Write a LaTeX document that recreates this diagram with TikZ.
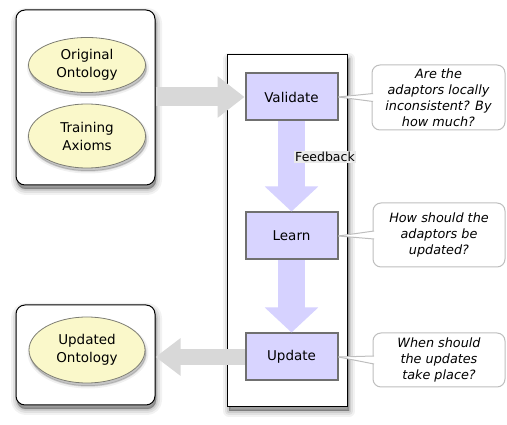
\documentclass[tikz,border=0pt]{standalone}
\usepackage{fontspec}
\setmainfont{DejaVu Sans}
\usetikzlibrary{shapes.geometric,arrows.meta,shadows,calc}
\definecolor{ellfill}{RGB}{250,248,202}
\definecolor{ellline}{RGB}{125,125,115}
\definecolor{stepfill}{RGB}{216,212,255}
\definecolor{stepline}{RGB}{112,112,112}
\definecolor{garrow}{RGB}{216,216,216}
\definecolor{parrow}{RGB}{214,210,255}
\definecolor{callline}{RGB}{190,190,190}
\definecolor{fbfill}{RGB}{234,234,234}
\begin{document}
\begin{tikzpicture}[x=1pt,y=-1pt,
  softshadow/.style={
    general shadow={fill=black, draw=black, line join=round, opacity=0.05, line width=12pt, shadow xshift=#1, shadow yshift=-4pt},
    general shadow={fill=black, draw=black, line join=round, opacity=0.07, line width=8pt, shadow xshift=#1, shadow yshift=-4pt},
    general shadow={fill=black, draw=black, line join=round, opacity=0.09, line width=4pt, shadow xshift=#1, shadow yshift=-4pt},
    general shadow={fill=black, draw=black, line join=round, opacity=0.12, line width=1pt, shadow xshift=#1, shadow yshift=-4pt}},
  groupbox/.style={draw=black, line width=1pt, fill=white, rounded corners=9pt, softshadow=1pt},
  mainbox/.style={draw=black, line width=1pt, fill=white, softshadow=2pt},
  onto/.style={ellipse, draw=ellline, line width=0.8pt, fill=ellfill, align=center,
    inner sep=0pt, font=\fontsize{13.5}{18}\selectfont,
    general shadow={fill=black, draw=black, opacity=0.06, line width=5pt, shadow xshift=1pt, shadow yshift=-3pt},
    general shadow={fill=black, draw=black, opacity=0.12, line width=1.5pt, shadow xshift=1pt, shadow yshift=-3pt}},
  stepbox/.style={draw=stepline, line width=2pt, fill=stepfill, minimum width=92pt,
    minimum height=47pt, font=\fontsize{13.5}{18}\selectfont},
  callout/.style={draw=callline, line width=1pt, fill=white, rounded corners=8pt,
    align=center, inner sep=1pt, font=\fontsize{12.8}{16}\selectfont\itshape},
  wedge/.style={draw=callline, line width=1pt},
  grayarrow/.style={draw=garrow},
  purplearrow/.style={draw=parrow, line width=27pt, -{Triangle[width=52pt,length=25pt]}},
]
\path[use as bounding box] (0,0) rectangle (507,425);

% left groups
\node[groupbox, minimum width=139pt, minimum height=175pt] (g1) at (85.5,97.5) {};
\node[onto, minimum width=117pt, minimum height=55pt] (orig) at (87,65) {Original\\Ontology};
\node[onto, minimum width=117pt, minimum height=64pt] (train) at (87,136) {Training\\Axioms};

\node[groupbox, minimum width=139pt, minimum height=100pt] (g3) at (85.5,355) {};
\node[onto, minimum width=116pt, minimum height=66pt] (upd) at (87,350) {Updated\\Ontology};

% main box
\node[mainbox, minimum width=120pt, minimum height=352pt] (main) at (287,231) {};

% steps
\node[stepbox] (validate) at (291.5,97) {Validate};
\node[stepbox] (learn) at (291.5,236) {Learn};
\node[stepbox] (update) at (291.5,357) {Update};

% arrows
\draw[grayarrow, line width=19pt, -{Triangle[width=40pt,length=27pt]}]
  (g1.east |- validate.west) -- (validate.west);
\draw[grayarrow, line width=16pt, -{Triangle[width=36pt,length=25pt]}]
  (update.west) -- (g3.east |- update.west);
\draw[purplearrow] (validate.south) -- (learn.north);
\draw[purplearrow] (learn.south) -- (update.north);

\node[fill=fbfill, inner sep=1pt, font=\fontsize{12.5}{15}\selectfont] (fb) at (325,157) {Feedback};

% callouts
\node[callout, minimum width=133pt, minimum height=65pt] (c1) at (438.5,97.5)
  {Are the\\adaptors locally\\inconsistent? By\\how much?};
\node[callout, minimum width=132pt, minimum height=64pt] (c2) at (439,235)
  {How should the\\adaptors be\\updated?};
\node[callout, minimum width=132pt, minimum height=54pt] (c3) at (439,360)
  {When should\\the updates\\take place?};

\foreach \s/\c in {validate/c1, learn/c2, update/c3}{
  \fill[white] (\s.east) -- ($(\c.west)+(1.5,-4)$) -- ($(\c.west)+(1.5,4)$) -- cycle;
  \draw[wedge] (\s.east) -- ($(\c.west)+(1.5,-4)$);
  \draw[wedge] (\s.east) -- ($(\c.west)+(1.5,4)$);
}
\end{tikzpicture}
\end{document}
